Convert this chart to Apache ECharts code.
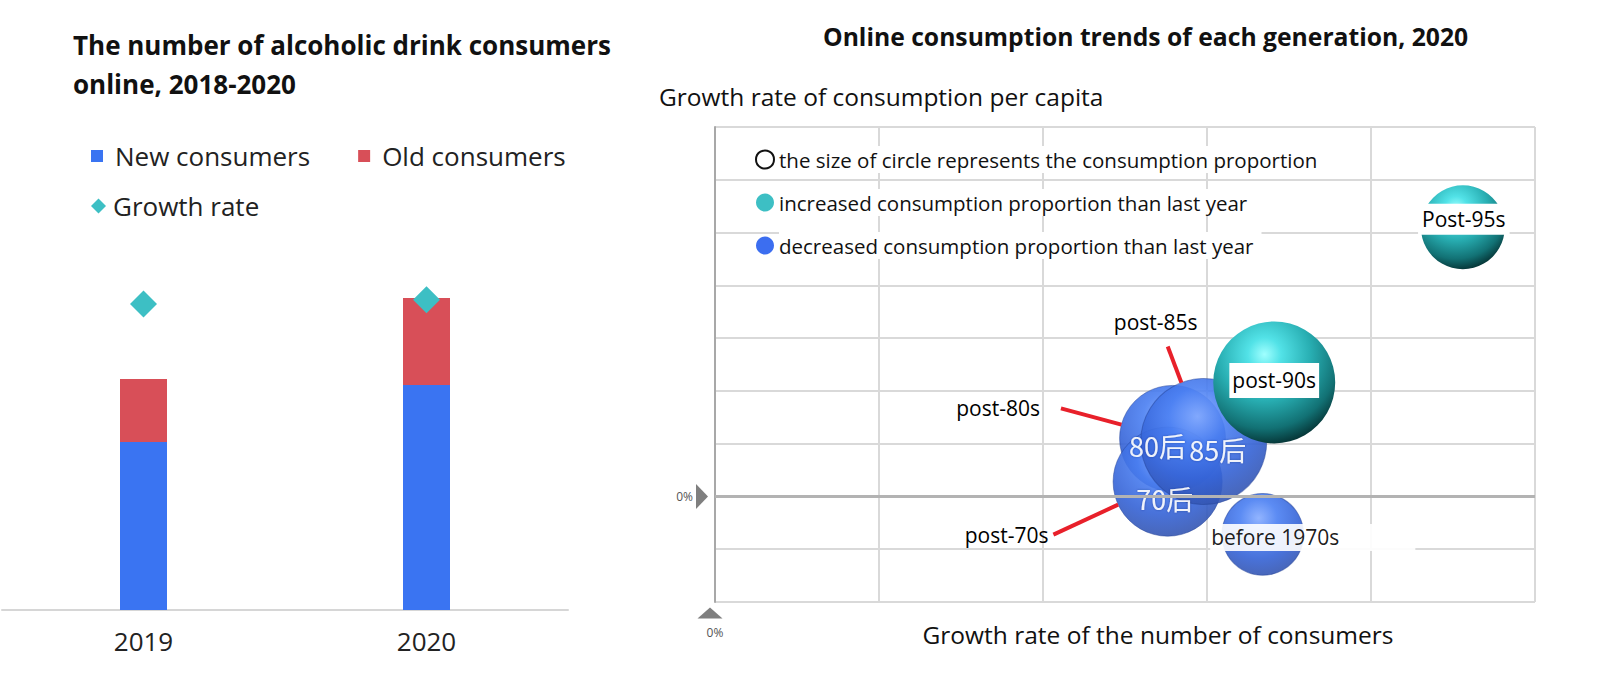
<!DOCTYPE html>
<html>
<head>
<meta charset="utf-8">
<script src="https://cdn.jsdelivr.net/npm/echarts@6/dist/echarts.min.js"></script>
<style>
html,body{margin:0;padding:0;background:#fff;}
#c{width:1598px;height:686px;}
</style>
</head>
<body>
<div id="c"></div>
<script>
// ---------- Left chart data ----------
const years = ['2019', '2020'];
const newConsumers = [56, 75];      // estimated (relative units)
const oldConsumers = [21, 29];      // estimated (relative units)
const growthRate = [51, 51.7];      // estimated (relative units)
const legendLeftRow1 = ['New consumers', 'Old consumers'];
const legendLeftRow2 = ['Growth rate'];

// ---------- Right chart data ----------
const generations = ['post-80s', 'post-70s', 'post-85s', 'before 1970s', 'post-90s', 'Post-95s'];
const generationsCN = ['80后', '70后', '85后', '70前', '90后', '95后'];
const consumerGrowth = [27.9, 27.6, 29.8, 33.4, 34.1, 45.6];   // x, %
const perCapitaGrowth = [5.5, 1.4, 5.2, -3.6, 10.8, 25.5];     // y, %
const consumptionShare = [16.6, 17.6, 23.5, 9.9, 22.0, 10.4];  // bubble size, %
const shareTrend = ['decreased', 'decreased', 'decreased', 'decreased', 'increased', 'increased'];
const legendRight = [
  'the size of circle represents the consumption proportion',
  'increased consumption proportion than last year',
  'decreased consumption proportion than last year'
];
const xTicks = { min: 0, max: 50, interval: 10 };
const yTicks = { min: -10, max: 35, interval: 5 };

// ---------- Styles ----------
const FONT = "'Open Sans','Noto Sans','Liberation Sans',sans-serif";
const CJK = "'Noto Sans CJK SC','Noto Sans',sans-serif";
const BLUE = '#3a74f2', RED = '#d84f58', TEAL = '#3dbfc4', DOT_BLUE = '#3c6ef0';
const GRIDLINE = '#d9d9d9';

function sphereFill(trend) {
  return trend === 'increased'
    ? { type: 'radial', x: 0.42, y: 0.27, r: 0.76, colorStops: [
        { offset: 0, color: '#a0ffff' }, { offset: 0.18, color: '#52e2e7' },
        { offset: 0.5, color: '#28aeb2' }, { offset: 0.8, color: '#127174' },
        { offset: 1, color: '#042e2f' }] }
    : { type: 'radial', x: 0.45, y: 0.3, r: 0.76, colorStops: [
        { offset: 0, color: '#86acff' }, { offset: 0.3, color: '#4a7ff2' },
        { offset: 0.65, color: '#3563d6' }, { offset: 1, color: '#3452a8' }] };
}
const sizeOf = v => 26 * Math.sqrt(v[2]);

// label styling per generation (style only, not data)
const innerLabel = {
  'post-80s': { offset: [-15, 7] },
  'post-70s': { offset: [-3, 17] },
  'post-85s': { offset: [14, 8] }
};
const boxLabel = {
  'before 1970s': { padding: [3, 76, 3, 1], offset: [50, 3] },
  'post-90s': { padding: [7, 3, 7, 3], offset: [0, -2] },
  'Post-95s': { padding: [5, 4, 5, 4], offset: [1, -8] }
};
const leaderLabel = {
  'post-80s': { spacer: 21, gap: 0, dx: -164, dy: -30 },
  'post-70s': { spacer: 4, gap: 0, dx: -159, dy: 53 },
  'post-85s': { spacer: 24, gap: 12, dx: -36, dy: -114 }
};

const sphereData = generations.map((g, i) => {
  const item = {
    name: g,
    value: [consumerGrowth[i], perCapitaGrowth[i], consumptionShare[i]],
    itemStyle: shareTrend[i] === 'decreased'
      ? { color: sphereFill(shareTrend[i]), opacity: 0.9, borderColor: 'rgba(35,65,150,0.55)', borderWidth: 1 }
      : { color: sphereFill(shareTrend[i]), opacity: 1 }
  };
  if (innerLabel[g]) {
    item.label = {
      show: true, position: 'inside', formatter: generationsCN[i], offset: innerLabel[g].offset,
      color: '#fff', fontSize: 27, fontFamily: CJK,
      textShadowColor: 'rgba(20,40,110,0.45)', textShadowBlur: 2
    };
  } else if (boxLabel[g]) {
    item.label = {
      show: true, position: 'inside', formatter: g, offset: boxLabel[g].offset,
      color: '#000', fontSize: 21, fontFamily: FONT, backgroundColor: '#fff',
      padding: boxLabel[g].padding
    };
  }
  return item;
});

const leaderData = generations.map((g, i) => {
  const s = leaderLabel[g];
  return {
    name: g,
    value: [consumerGrowth[i], perCapitaGrowth[i], consumptionShare[i]],
    label: s
      ? { show: true, position: 'inside',
          formatter: '{t|' + g + '}{s| }' + (s.gap ? '\n{g| }' : ''),
          rich: {
            t: { color: '#000', fontSize: 21, fontFamily: FONT, lineHeight: 26 },
            s: { width: s.spacer, fontSize: 21, lineHeight: 26 },
            g: { fontSize: 8, lineHeight: s.gap, height: s.gap }
          } }
      : { show: false }
  };
}).filter(d => leaderLabel[d.name]);

const chart = echarts.init(document.getElementById('c'), null, { renderer: 'svg' });

chart.setOption({
  backgroundColor: '#fff',
  animation: false,
  title: [
    { text: 'The number of alcoholic drink consumers\nonline, 2018-2020', left: 73, top: 25, padding: 0,
      textStyle: { fontSize: 26, fontWeight: 'bold', lineHeight: 39, color: '#111', fontFamily: FONT } },
    { text: 'Online consumption trends of each generation, 2020', left: 823, top: 21, padding: 0,
      textStyle: { fontSize: 24.7, fontWeight: 'bold', lineHeight: 30, color: '#111', fontFamily: FONT } },
    { text: 'Growth rate of consumption per capita', left: 659, top: 81, padding: 0,
      textStyle: { fontSize: 24.5, fontWeight: 'normal', lineHeight: 30, color: '#111', fontFamily: FONT } }
  ],
  legend: [
    { data: legendLeftRow1, left: 91, top: 143, padding: 0, orient: 'horizontal', itemGap: 48,
      itemWidth: 12, itemHeight: 12, icon: 'rect', selectedMode: false,
      textStyle: { fontSize: 26, color: '#222', fontFamily: FONT, padding: [0, 0, 0, 7] } },
    { data: legendLeftRow2, left: 91, top: 193, padding: 0, itemWidth: 15, itemHeight: 15, icon: 'diamond',
      selectedMode: false, textStyle: { fontSize: 26, color: '#222', fontFamily: FONT, padding: [0, 0, 0, 2] } },
    { data: legendRight.map((n, i) => i === 0
        ? { name: n, itemStyle: { color: '#fff', borderColor: '#111', borderWidth: 2, opacity: 1 } }
        : { name: n }),
      orient: 'vertical', left: 755, top: 146, padding: 0, itemGap: 16, itemWidth: 18, itemHeight: 18,
      icon: 'circle', selectedMode: false,
      textStyle: { fontSize: 20.5, color: '#111', fontFamily: FONT, backgroundColor: '#fff', padding: [3, 8, 3, 0] } }
  ],
  grid: [
    { left: 2, width: 566, top: 250, bottom: 76 },
    { left: 715, right: 63, top: 127, bottom: 84 }
  ],
  xAxis: [
    { type: 'category', gridIndex: 0, data: years,
      axisLine: { lineStyle: { color: '#d6d6d6', width: 2 } }, axisTick: { show: false },
      axisLabel: { fontSize: 26, color: '#222', margin: 18, fontFamily: FONT } },
    { type: 'value', gridIndex: 1, min: xTicks.min, max: xTicks.max, interval: xTicks.interval,
      axisLine: { show: false }, axisTick: { show: false },
      splitLine: { lineStyle: { color: GRIDLINE, width: 2 } },
      axisLabel: { formatter: v => (v === 0 ? '0%' : ''), margin: 24, fontSize: 12, color: '#555', fontFamily: FONT },
      name: 'Growth rate of the number of consumers', nameLocation: 'middle', nameGap: 20,
      nameMoveOverlap: false,
      nameTextStyle: { fontSize: 24.5, color: '#111', fontFamily: FONT, padding: [0, 0, 0, 66] } }
  ],
  yAxis: [
    { type: 'value', gridIndex: 0, min: 0, max: 120, show: false },
    { type: 'value', gridIndex: 0, min: 0, max: 60, show: false },
    { type: 'value', gridIndex: 1, min: yTicks.min, max: yTicks.max, interval: yTicks.interval, offset: 7,
      axisLine: { show: true, lineStyle: { color: '#a8a8a8', width: 2 } }, axisTick: { show: false },
      splitLine: { lineStyle: { color: GRIDLINE, width: 2 } },
      axisLabel: { formatter: v => (v === 0 ? '0%' : ''), margin: 15, fontSize: 12, color: '#555', fontFamily: FONT } }
  ],
  series: [
    { name: 'New consumers', type: 'bar', stack: 'total', xAxisIndex: 0, yAxisIndex: 0,
      barWidth: 47, data: newConsumers, itemStyle: { color: BLUE } },
    { name: 'Old consumers', type: 'bar', stack: 'total', xAxisIndex: 0, yAxisIndex: 0,
      barWidth: 47, data: oldConsumers, itemStyle: { color: RED } },
    { name: 'Growth rate', type: 'scatter', xAxisIndex: 0, yAxisIndex: 1, symbol: 'diamond',
      symbolSize: 27, data: growthRate, itemStyle: { color: TEAL, opacity: 1 }, z: 5 },

    // legend-only series for the bubble chart
    { name: legendRight[0], type: 'scatter', xAxisIndex: 1, yAxisIndex: 2, data: [],
      itemStyle: { color: '#fff', borderColor: '#111', borderWidth: 2, opacity: 1 } },
    { name: legendRight[1], type: 'scatter', xAxisIndex: 1, yAxisIndex: 2, data: [], itemStyle: { color: TEAL, opacity: 1 } },
    { name: legendRight[2], type: 'scatter', xAxisIndex: 1, yAxisIndex: 2, data: [], itemStyle: { color: DOT_BLUE, opacity: 1 } },

    // zero line
    { type: 'scatter', xAxisIndex: 1, yAxisIndex: 2, data: [], silent: true,
      markLine: { silent: true, symbol: 'none', label: { show: false },
        lineStyle: { color: '#b3b3b3', width: 3, type: 'solid' }, data: [{ yAxis: 0 }] } },

    // axis origin markers
    { type: 'scatter', xAxisIndex: 1, yAxisIndex: 2, silent: true, clip: false, symbol: 'triangle',
      itemStyle: { color: '#7f7f7f', opacity: 1 },
      data: [
        { value: [xTicks.min, 0], symbolRotate: -90, symbolSize: [25, 12], symbolOffset: [-13, 0] },
        { value: [xTicks.min, yTicks.min], symbolSize: [25, 11], symbolOffset: [-5, 11] }
      ] },

    // bubbles
    { name: 'generations', type: 'scatter', xAxisIndex: 1, yAxisIndex: 2, clip: false, z: 3,
      symbolSize: sizeOf, data: sphereData },

    // leader labels
    { name: 'leaders', type: 'scatter', xAxisIndex: 1, yAxisIndex: 2, clip: false, z: 4, silent: true,
      symbolSize: sizeOf, data: leaderData,
      itemStyle: { color: 'rgba(0,0,0,0)', opacity: 1, borderWidth: 0 },
      labelLayout: p => {
        const s = leaderLabel[leaderData[p.dataIndex].name];
        return { dx: s.dx, dy: s.dy };
      },
      labelLine: { show: true, lineStyle: { color: '#e8202a', width: 4, opacity: 1 } } }
  ]
});
</script>
</body>
</html>
